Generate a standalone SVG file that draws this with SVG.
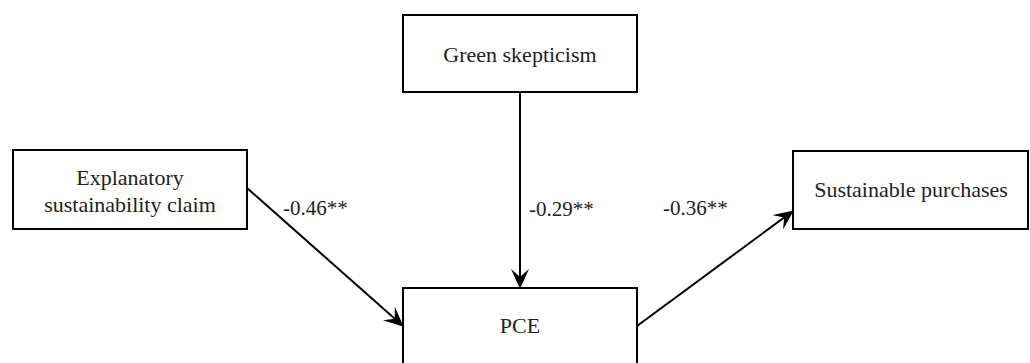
<svg xmlns="http://www.w3.org/2000/svg" width="1030" height="363" viewBox="0 0 1030 363">
<style>
.box{fill:#fff;stroke:#000;stroke-width:2}
.t{font-family:'Liberation Serif','Times New Roman',serif;font-size:22px;fill:#222;text-anchor:middle}
.l{font-family:'Liberation Serif','Times New Roman',serif;font-size:21px;fill:#222}
.c{stroke:#000;stroke-width:2;fill:none}
.ah{fill:#000;stroke:none}
</style>
<defs>
<marker id="arrow" viewBox="0 0 20 18" refX="19" refY="9" markerWidth="20" markerHeight="18" markerUnits="userSpaceOnUse" orient="auto">
<path class="ah" d="M0,0 L20,9 L0,18 L8,9 Z"/>
</marker>
</defs>
<rect width="1030" height="363" fill="#fff"/>
<g id="connectors">
<line class="c" x1="520" y1="92" x2="520" y2="288" marker-end="url(#arrow)"/>
<line class="c" x1="247" y1="188" x2="403" y2="326" marker-end="url(#arrow)"/>
<line class="c" x1="637" y1="326" x2="793" y2="211" marker-end="url(#arrow)"/>
<text class="l" x="283" y="215">-0.46**</text>
<text class="l" x="529" y="216">-0.29**</text>
<text class="l" x="663" y="215">-0.36**</text>
</g>
<g id="green">
<rect class="box" x="403" y="15" width="234" height="77"/>
<text class="t" x="520" y="62">Green skepticism</text>
</g>
<g id="explanatory">
<rect class="box" x="13" y="150" width="234" height="79"/>
<text class="t" x="130" y="185">Explanatory</text>
<text class="t" x="130" y="212">sustainability claim</text>
</g>
<g id="sustainable">
<rect class="box" x="793" y="151" width="235" height="78"/>
<text class="t" x="911" y="197">Sustainable purchases</text>
</g>
<g id="pce">
<rect class="box" x="403" y="288" width="234" height="90"/>
<text class="t" x="520" y="333">PCE</text>
</g>
</svg>
